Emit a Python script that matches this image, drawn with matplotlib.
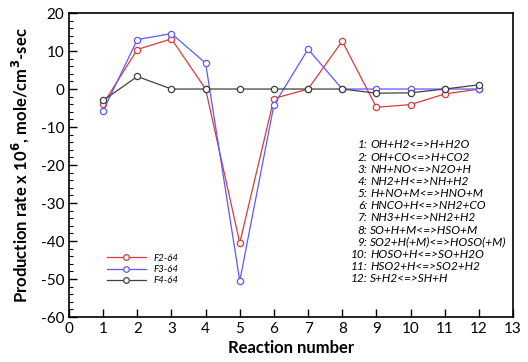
import matplotlib
matplotlib.use("Agg")
import matplotlib.pyplot as plt
from matplotlib.ticker import MultipleLocator

# reaction number on x, production rate on y
reactions = [1, 2, 3, 4, 5, 6, 7, 8, 9, 10, 11, 12]
f2_64 = [-3.9, 10.4, 13.2, 0.0, -40.5, -2.5, 0.0, 12.6, -4.8, -4.1, -1.3, 0.0]
f3_64 = [-5.7, 13.0, 14.6, 6.8, -50.5, -4.2, 10.5, 0.0, 0.0, 0.0, 0.0, 0.0]
f4_64 = [-3.0, 3.3, 0.0, 0.0, 0.0, 0.0, 0.0, 0.0, -1.1, -1.0, 0.0, 1.1]

series_names = ["F2-64", "F3-64", "F4-64"]
series_colors = ["#d93a3a", "#5a5aff", "#404040"]

reaction_names = ["OH+H2<=>H+H2O", "OH+CO<=>H+CO2", "NH+NO<=>N2O+H",
                  "NH2+H<=>NH+H2", "H+NO+M<=>HNO+M", "HNCO+H<=>NH2+CO",
                  "NH3+H<=>NH2+H2", "SO+H+M<=>HSO+M", "SO2+H(+M)<=>HOSO(+M)",
                  "HOSO+H<=>SO+H2O", "HSO2+H<=>SO2+H2", "S+H2<=>SH+H"]

plt.rcParams['font.family'] = ['Lato', 'DejaVu Sans']
plt.rcParams['axes.unicode_minus'] = False

fig = plt.figure(figsize=(5.28, 3.62), dpi=100)
ax = fig.add_axes([0.1307, 0.1243, 0.8409, 0.8397])

handles = []
for vals, name, col in zip([f2_64, f3_64, f4_64], series_names, series_colors):
    h, = ax.plot(reactions, vals, color=col, lw=0.9, marker='o', ms=4.5,
                 mfc='white', mec=col, mew=0.9, label=name)
    handles.append(h)

ax.set_xlim(0, 13)
ax.set_ylim(-60, 20)
ax.xaxis.set_major_locator(MultipleLocator(1))
ax.yaxis.set_major_locator(MultipleLocator(10))
ax.yaxis.set_minor_locator(MultipleLocator(2))
ax.tick_params(axis='both', which='both', direction='in', top=False, right=False, labelsize=11)
ax.tick_params(axis='both', which='major', length=6, width=1)
ax.tick_params(axis='y', which='minor', length=3, width=0.8)
for s in ax.spines.values():
    s.set_linewidth(1.2)

ax.set_xlabel("Reaction number", fontsize=12, fontweight='bold', labelpad=3)
ax.set_ylabel(r"Production rate x 10$^{\mathbf{6}}$, mole/cm$^{\mathbf{3}}$-sec",
              fontsize=12, fontweight='bold', labelpad=6)

leg = ax.legend(handles=handles, loc='lower left', bbox_to_anchor=(0.065, 0.075),
                frameon=False, handlelength=4.0, labelspacing=0.25, markerscale=0.9,
                prop={'style': 'italic', 'size': 7})

# reaction list, aligned on the colon
for i, rn in enumerate(reaction_names):
    y = 0.566 - i * 0.04
    ax.text(0.672, y, "%d:" % (i + 1), transform=ax.transAxes, ha='right', va='center',
            fontsize=8.6, style='italic')
    ax.text(0.678, y, rn, transform=ax.transAxes, ha='left', va='center',
            fontsize=8.6, style='italic')

fig.savefig("out.png", dpi=100)
